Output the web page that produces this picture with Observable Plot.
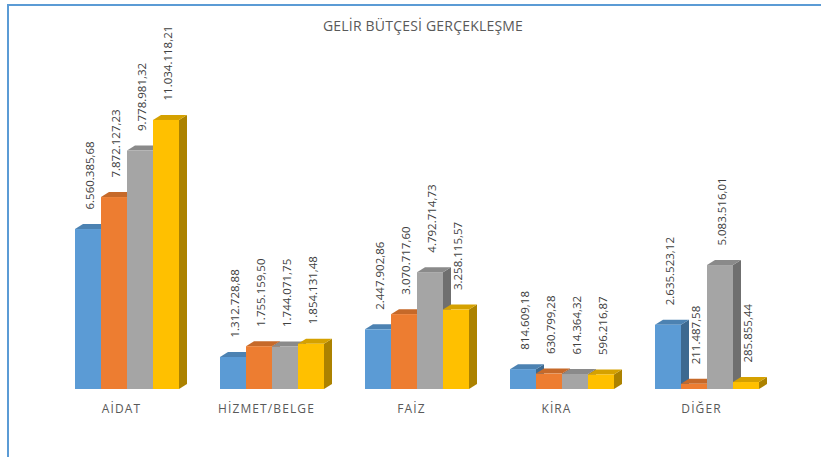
<!DOCTYPE html>
<html>
<head>
<meta charset="utf-8">
<script src="https://cdn.jsdelivr.net/npm/d3@7"></script>
<script src="https://cdn.jsdelivr.net/npm/@observablehq/plot@0.6"></script>
<style>
body{margin:0;background:#fff;}
#wrap{position:relative;width:821px;height:457px;overflow:hidden;font-family:"Open Sans",sans-serif;background:#fff;}
#frame{position:absolute;left:7px;top:4px;width:840px;height:480px;border-top:2px solid #5b9bd5;border-left:2px solid #5b9bd5;box-sizing:border-box;}
#title{position:absolute;top:16px;left:0;width:846px;text-align:center;font-size:14px;color:#595959;white-space:nowrap;letter-spacing:0.2px;}
#chart{position:absolute;left:0;top:0;}
</style>
</head>
<body>
<div id="wrap">
  <div id="frame"></div>
  <div id="title">GELİR BÜTÇESİ GERÇEKLEŞME</div>
  <div id="chart"></div>
</div>
<script>
const categories = ["AİDAT", "HİZMET/BELGE", "FAİZ", "KİRA", "DİĞER"];
const series = ["Seri 1", "Seri 2", "Seri 3", "Seri 4"];
const seri1 = [6560385.68, 1312728.88, 2447902.86, 814609.18, 2635523.12];
const seri2 = [7872127.23, 1755159.50, 3070717.60, 630799.28, 211487.58];
const seri3 = [9778981.32, 1744071.75, 4792714.73, 614364.32, 5083516.01];
const seri4 = [11034118.21, 1854131.48, 3258115.57, 596216.87, 285855.44];
const colors = ["#5b9bd5", "#ed7d31", "#a5a5a5", "#ffc000"];

const seriesValues = [seri1, seri2, seri3, seri4];
const data = [];
categories.forEach((c, i) => {
  series.forEach((s, j) => data.push({cat: c, series: s, value: seriesValues[j][i]}));
});

function fmt(v) {
  const [int, dec] = v.toFixed(2).split(".");
  return int.replace(/\B(?=(\d{3})+(?!\d))/g, ".") + "," + dec;
}

const plot = Plot.plot({
  width: 821,
  height: 457,
  marginTop: 96.4,
  marginBottom: 68,
  marginLeft: 75,
  marginRight: 61.6,
  style: {fontFamily: "Open Sans", background: "transparent", overflow: "visible"},
  fx: {domain: categories, range: [75, 759.4], paddingInner: 0.28, paddingOuter: 0, label: null, axis: "bottom", tickSize: 0, tickPadding: 15},
  x: {domain: series, padding: 0, axis: null},
  y: {domain: [0, 12e6], range: [389, 96.4], axis: null},
  color: {domain: series, range: colors},
  marks: [
    Plot.barY(data, {fx: "cat", x: "series", y: "value", fill: "series"}),
    Plot.text(data, {fx: "cat", x: "series", y: "value", text: d => fmt(d.value), rotate: -90, textAnchor: "start", dx: 2, dy: -20, fontSize: 11.5, fill: "#404040"})
  ]
});
document.getElementById("chart").appendChild(plot);

// 3D faces derived from the rendered bars
const svg = d3.select(plot);
const DX = 8, DY = -5;
svg.selectAll('g[aria-label="bar"] rect').each(function() {
  const r = d3.select(this);
  const x = +r.attr("x"), y = +r.attr("y"), w = +r.attr("width"), h = +r.attr("height");
  const f = d3.color(r.attr("fill"));
  const parent = this.parentNode;
  const side = document.createElementNS("http://www.w3.org/2000/svg", "polygon");
  side.setAttribute("points", [[x + w, y + h], [x + w + DX, y + h + DY], [x + w + DX, y + DY], [x + w, y]].map(p => p.join(",")).join(" "));
  side.setAttribute("fill", f.darker(1.1).formatHex());
  const top = document.createElementNS("http://www.w3.org/2000/svg", "polygon");
  top.setAttribute("points", [[x, y], [x + DX, y + DY], [x + w + DX, y + DY], [x + w, y]].map(p => p.join(",")).join(" "));
  top.setAttribute("fill", f.darker(0.5).formatHex());
  parent.insertBefore(side, this);
  parent.insertBefore(top, this);
});

// category label styling
svg.selectAll('g[aria-label^="fx-axis"] text').each(function() {
  this.setAttribute("dx", "-6");
  this.style.fontSize = "12px";
  this.style.letterSpacing = "1.1px";
  this.style.fill = "#595959";
});
</script>
</body>
</html>
